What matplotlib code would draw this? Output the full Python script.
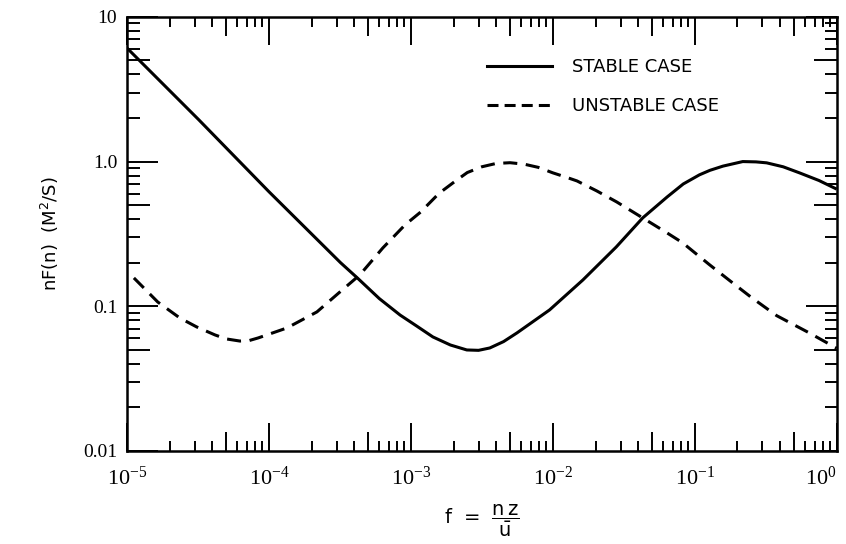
import matplotlib
matplotlib.use('Agg')
import matplotlib.pyplot as plt
from matplotlib.lines import Line2D
from matplotlib.ticker import FixedLocator, NullLocator, NullFormatter

# spectra
stable_f = [1e-5, 3.2e-5, 1e-4, 3.2e-4, 4.2e-4, 6.0e-4, 8.4e-4, 1.1e-3, 1.43e-3,
            1.9e-3, 2.48e-3, 3.0e-3, 3.6e-3, 4.5e-3, 5.6e-3, 9.5e-3, 1.63e-2,
            2.8e-2, 4.3e-2, 6.4e-2, 8.3e-2, 0.108, 0.128, 0.158, 0.218, 0.27,
            0.321, 0.42, 0.548, 0.75, 1.0]
stable_nf = [6.1, 1.95, 0.62, 0.20, 0.157, 0.113, 0.087, 0.073, 0.0614,
             0.054, 0.0499, 0.0496, 0.0515, 0.057, 0.0655, 0.0944, 0.152,
             0.257, 0.408, 0.570, 0.70, 0.81, 0.87, 0.93, 1.0, 0.995,
             0.98, 0.92, 0.835, 0.74, 0.645]

unstable_f = [1.12e-5, 1.65e-5, 2.36e-5, 3.1e-5, 4.17e-5, 5.0e-5, 6.25e-5, 7.2e-5,
              8.4e-5, 1.34e-4, 2.18e-4, 3.06e-4, 4.38e-4, 6.35e-4, 9.1e-4, 1.17e-3,
              1.58e-3, 2.09e-3, 2.5e-3, 3.16e-3, 3.98e-3, 5.0e-3, 6.3e-3, 7.9e-3,
              1e-2, 1.26e-2, 1.48e-2, 2.04e-2, 2.82e-2, 4.3e-2, 6.3e-2, 8.2e-2,
              0.126, 0.185, 0.251, 0.378, 0.631, 1.0]
unstable_nf = [0.157, 0.107, 0.083, 0.072, 0.0634, 0.0595, 0.0575, 0.0578,
               0.0604, 0.0708, 0.0914, 0.122, 0.165, 0.253, 0.365, 0.447,
               0.603, 0.741, 0.84, 0.92, 0.97, 0.982, 0.959, 0.912,
               0.836, 0.776, 0.735, 0.627, 0.526, 0.408, 0.324, 0.275,
               0.195, 0.145, 0.115, 0.0861, 0.066, 0.0513]

x_major = [1e-5, 1e-4, 1e-3, 1e-2, 1e-1, 1e0]
x_labels = [r'$\mathregular{10^{-5}}$', r'$\mathregular{10^{-4}}$', r'$\mathregular{10^{-3}}$',
            r'$\mathregular{10^{-2}}$', r'$\mathregular{10^{-1}}$', r'$\mathregular{10^{0}}$']
y_major = [0.01, 0.1, 1.0, 10]
y_labels = ['0.01', '0.1', '1.0', '10']

sans = ['DejaVu Sans']
serif = ['Liberation Serif', 'DejaVu Serif']

fig = plt.figure(figsize=(8.46, 5.44), dpi=100)
ax = fig.add_axes([0.150, 0.171, 0.839, 0.798])
ax.set_xscale('log')
ax.set_yscale('log')
ax.set_xlim(1e-5, 1)
ax.set_ylim(0.01, 10)

ax.plot(stable_f, stable_nf, color='black', lw=2.2, solid_capstyle='butt',
        solid_joinstyle='round')
ax.plot(unstable_f, unstable_nf, color='black', lw=2.2, linestyle=(0, (4.6, 2.8)),
        dash_capstyle='butt', dash_joinstyle='round')

for s in ax.spines.values():
    s.set_linewidth(1.8)


def decade_subs(lo, hi, subs):
    out = []
    for k in range(lo, hi):
        out += [m * 10.0 ** k for m in subs]
    return out


ax.xaxis.set_major_locator(FixedLocator(x_major))
ax.set_xticklabels(x_labels, family=serif, fontsize=16)
ax.get_xticklabels()[-1].set_horizontalalignment('right')
ax.xaxis.set_minor_locator(FixedLocator(decade_subs(-5, 0, [2, 3, 4, 6, 7, 8, 9])))
ax.xaxis.set_minor_formatter(NullFormatter())
ax.yaxis.set_major_locator(FixedLocator(y_major))
ax.set_yticklabels(y_labels, family=serif, fontsize=14)
ax.yaxis.set_minor_locator(FixedLocator(decade_subs(-2, 1, [2, 3, 4, 6, 7, 8, 9])))
ax.yaxis.set_minor_formatter(NullFormatter())

ax.tick_params(axis='x', which='major', direction='in', length=20, width=1.4,
               top=True, pad=11)
ax.tick_params(axis='x', which='minor', direction='in', length=7, width=1.4, top=True)
ax.tick_params(axis='y', which='major', direction='in', length=22, width=1.4,
               right=True, pad=7)
ax.tick_params(axis='y', which='minor', direction='in', length=9, width=1.4, right=True)

# the "5" ticks are a bit longer than the other minor ticks
for loc in ['bottom', 'top']:
    sec = ax.secondary_xaxis(loc)
    sec.set_xticks(decade_subs(-5, 0, [5]))
    sec.xaxis.set_minor_locator(NullLocator())
    sec.tick_params(direction='in', length=13.5, width=1.4, labelbottom=False, labeltop=False)
    sec.spines[loc].set_visible(False)
for loc in ['left', 'right']:
    sec = ax.secondary_yaxis(loc)
    sec.set_yticks(decade_subs(-2, 1, [5]))
    sec.yaxis.set_minor_locator(NullLocator())
    sec.tick_params(direction='in', length=16.5, width=1.4, labelleft=False, labelright=False)
    sec.spines[loc].set_visible(False)

ax.set_ylabel(r'nF(n)  (M$\mathregular{^2}$/S)', family=sans, fontsize=13, labelpad=16)
ax.set_xlabel(r'f  =  $\mathregular{\dfrac{n\,z}{\bar{u}}}$', family=sans, fontsize=14,
              labelpad=10)

handles = [Line2D([], [], color='black', lw=2.2),
           Line2D([], [], color='black', lw=2.2, linestyle=(0, (3.6, 2.0)))]
ax.legend(handles, ['STABLE CASE', 'UNSTABLE CASE'], loc='upper left',
          bbox_to_anchor=(0.507, 0.905), frameon=False, borderpad=0, borderaxespad=0,
          handlelength=3.6, handletextpad=1.1, labelspacing=1.15,
          prop={'family': sans, 'size': 13})

fig.savefig('out.png', dpi=100)
